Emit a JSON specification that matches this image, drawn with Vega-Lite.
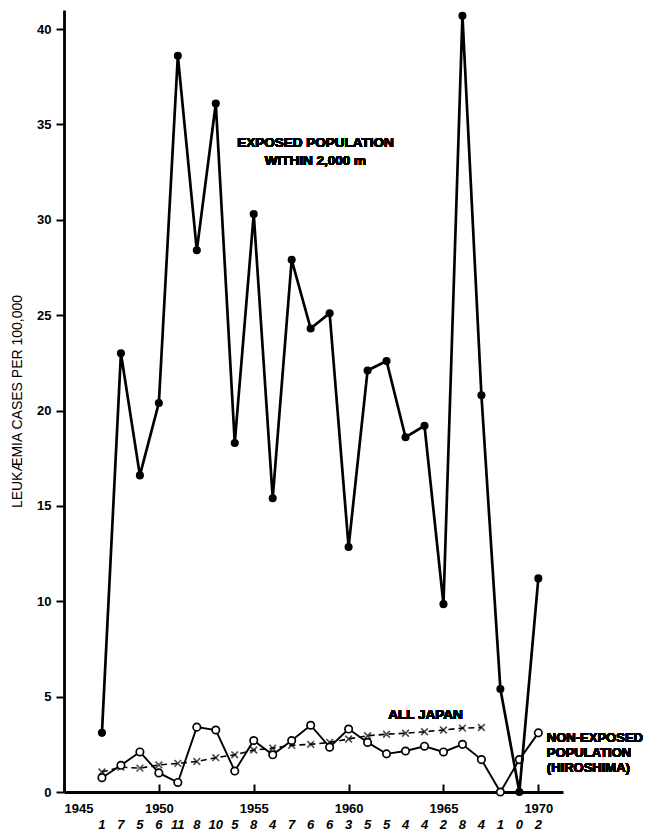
{
  "$schema": "https://vega.github.io/schema/vega-lite/v6.json",
  "autosize": "none",
  "width": 499,
  "height": 782,
  "padding": {"left": 64, "top": 10, "right": 82, "bottom": 40},
  "background": "white",
  "config": {
    "view": {"stroke": null},
    "font": "Liberation Sans",
    "axis": {
      "grid": false,
      "domainColor": "black",
      "tickColor": "black",
      "labelColor": "black",
      "titleColor": "black",
      "labelFont": "Liberation Sans",
      "labelFontWeight": "bold",
      "labelFontSize": 13,
      "titleFont": "Liberation Sans",
      "titleFontWeight": "normal"
    }
  },
  "data": {
    "values": [
      {"year": 1947, "exposed": 3.1, "nonExposed": 0.75, "allJapan": 1.05, "cases": "1"},
      {"year": 1948, "exposed": 23.0, "nonExposed": 1.4, "allJapan": 1.3, "cases": "7"},
      {"year": 1949, "exposed": 16.6, "nonExposed": 2.1, "allJapan": 1.25, "cases": "5"},
      {"year": 1950, "exposed": 20.4, "nonExposed": 1.0, "allJapan": 1.42, "cases": "6"},
      {"year": 1951, "exposed": 38.6, "nonExposed": 0.5, "allJapan": 1.5, "cases": "11"},
      {"year": 1952, "exposed": 28.4, "nonExposed": 3.4, "allJapan": 1.6, "cases": "8"},
      {"year": 1953, "exposed": 36.1, "nonExposed": 3.25, "allJapan": 1.8, "cases": "10"},
      {"year": 1954, "exposed": 18.3, "nonExposed": 1.1, "allJapan": 1.95, "cases": "5"},
      {"year": 1955, "exposed": 30.3, "nonExposed": 2.7, "allJapan": 2.2, "cases": "8"},
      {"year": 1956, "exposed": 15.4, "nonExposed": 1.95, "allJapan": 2.3, "cases": "4"},
      {"year": 1957, "exposed": 27.9, "nonExposed": 2.7, "allJapan": 2.45, "cases": "7"},
      {"year": 1958, "exposed": 24.3, "nonExposed": 3.5, "allJapan": 2.5, "cases": "6"},
      {"year": 1959, "exposed": 25.1, "nonExposed": 2.35, "allJapan": 2.6, "cases": "6"},
      {"year": 1960, "exposed": 12.85, "nonExposed": 3.3, "allJapan": 2.78, "cases": "3"},
      {"year": 1961, "exposed": 22.1, "nonExposed": 2.6, "allJapan": 2.95, "cases": "5"},
      {"year": 1962, "exposed": 22.6, "nonExposed": 2.0, "allJapan": 3.03, "cases": "5"},
      {"year": 1963, "exposed": 18.6, "nonExposed": 2.15, "allJapan": 3.08, "cases": "4"},
      {"year": 1964, "exposed": 19.2, "nonExposed": 2.4, "allJapan": 3.16, "cases": "4"},
      {"year": 1965, "exposed": 9.85, "nonExposed": 2.1, "allJapan": 3.25, "cases": "2"},
      {"year": 1966, "exposed": 40.7, "nonExposed": 2.5, "allJapan": 3.35, "cases": "8"},
      {"year": 1967, "exposed": 20.8, "nonExposed": 1.7, "allJapan": 3.38, "cases": "4"},
      {"year": 1968, "exposed": 5.4, "nonExposed": 0.0, "allJapan": null, "cases": "1"},
      {"year": 1969, "exposed": 0.0, "nonExposed": 1.7, "allJapan": null, "cases": "0"},
      {"year": 1970, "exposed": 11.2, "nonExposed": 3.1, "allJapan": null, "cases": "2"}
    ]
  },
  "encoding": {
    "x": {
      "field": "year",
      "type": "quantitative",
      "scale": {"domain": [1945, 1971.3], "nice": false, "zero": false},
      "axis": {
        "title": null,
        "values": [1945, 1950, 1955, 1960, 1965, 1970],
        "format": "d",
        "tickSize": -8,
        "tickWidth": 2,
        "domainWidth": 2.8,
        "labelPadding": 18
      }
    }
  },
  "layer": [
    {
      "mark": {"type": "line", "color": "black", "strokeWidth": 1.6, "strokeDash": [6, 4]},
      "encoding": {
        "y": {
          "field": "allJapan",
          "type": "quantitative",
          "scale": {"domain": [0, 41], "nice": false},
          "axis": {
            "title": "LEUKÆMIA CASES PER 100,000",
            "titleFontSize": 14,
            "titlePadding": 12,
            "values": [0, 5, 10, 15, 20, 25, 30, 35, 40],
            "tickSize": 8,
            "tickWidth": 2,
            "domainWidth": 2.8,
            "labelPadding": 5
          }
        }
      }
    },
    {
      "mark": {"type": "point", "shape": "M-1,-1L1,1M-1,1L1,-1", "size": 45, "color": "black", "strokeWidth": 1.6, "filled": false},
      "encoding": {"y": {"field": "allJapan", "type": "quantitative"}}
    },
    {
      "mark": {"type": "line", "color": "black", "strokeWidth": 1.9},
      "encoding": {"y": {"field": "nonExposed", "type": "quantitative"}}
    },
    {
      "mark": {"type": "point", "shape": "circle", "size": 55, "fill": "white", "stroke": "black", "strokeWidth": 1.7, "filled": true, "opacity": 1},
      "encoding": {"y": {"field": "nonExposed", "type": "quantitative"}}
    },
    {
      "mark": {"type": "line", "color": "black", "strokeWidth": 2.7},
      "encoding": {"y": {"field": "exposed", "type": "quantitative"}}
    },
    {
      "mark": {"type": "point", "shape": "circle", "size": 65, "color": "black", "filled": true, "opacity": 1},
      "encoding": {"y": {"field": "exposed", "type": "quantitative"}}
    },
    {
      "mark": {"type": "text", "font": "Liberation Sans", "fontStyle": "italic", "fontWeight": "bold", "fontSize": 13, "dy": 33, "color": "black"},
      "encoding": {
        "y": {"datum": 0, "type": "quantitative"},
        "text": {"field": "cases"}
      }
    },
    {
      "mark": {"type": "text", "font": "Liberation Sans", "fontWeight": "bold", "fontSize": 13.5, "align": "center", "baseline": "middle", "lineHeight": 18, "color": "black"},
      "encoding": {
        "x": {"datum": 1958.25},
        "y": {"datum": 34.02},
        "text": {"value": ["EXPOSED POPULATION", "WITHIN 2,000 m"]}
      }
    },
    {
      "mark": {"type": "text", "font": "Liberation Sans", "fontWeight": "bold", "fontSize": 13.5, "align": "center", "baseline": "middle", "color": "black"},
      "encoding": {
        "x": {"datum": 1964.05},
        "y": {"datum": 4.05},
        "text": {"value": "ALL JAPAN"}
      }
    },
    {
      "mark": {"type": "text", "font": "Liberation Sans", "fontWeight": "bold", "fontSize": 13, "align": "left", "baseline": "middle", "lineHeight": 15, "color": "black"},
      "encoding": {
        "x": {"datum": 1970.45},
        "y": {"datum": 2.85},
        "text": {"value": ["NON-EXPOSED", "POPULATION", "(HIROSHIMA)"]}
      }
    }
  ]
}
